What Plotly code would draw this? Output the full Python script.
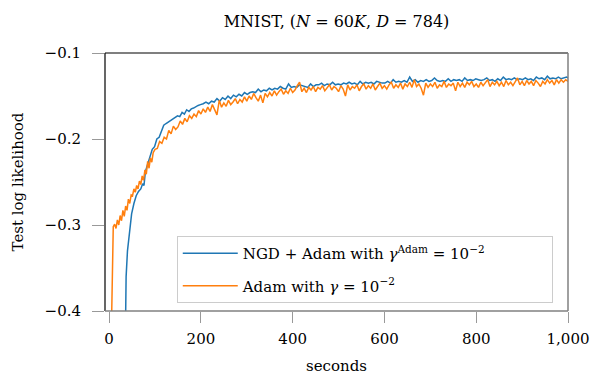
import plotly.graph_objects as go

# ---- data ----
ngd_t = [35, 37, 40, 44, 49, 54, 59, 64, 69, 73,
         76, 79, 84, 89, 94, 99, 104, 109, 114, 119,
         124, 129, 134, 139, 144, 149, 154, 159, 164, 169,
         174, 179, 184, 189, 194, 199, 205, 211, 217, 223,
         229, 235, 241, 247, 253, 259, 265, 271, 277, 283,
         289, 295, 301, 307, 313, 319, 325, 331, 337, 343,
         349, 355, 361, 367, 373, 379, 385, 391, 397, 403,
         409, 415, 421, 427, 433, 439, 445, 451, 457, 463,
         469, 475, 481, 487, 493, 499, 505, 511, 517, 523,
         529, 535, 541, 547, 553, 559, 565, 571, 577, 583,
         589, 595, 601, 607, 613, 619, 625, 631, 637, 643,
         649, 655, 661, 667, 673, 679, 685, 691, 697, 703,
         709, 715, 721, 727, 733, 739, 745, 751, 757, 763,
         769, 775, 781, 787, 793, 799, 805, 811, 817, 823,
         829, 835, 841, 847, 853, 859, 865, 871, 877, 883,
         889, 895, 901, 907, 913, 919, 925, 931, 937, 943,
         949, 955, 961, 967, 973, 979, 985, 991, 997, 1000]
ngd_ll = [-0.45, -0.36, -0.33, -0.31, -0.287, -0.275, -0.266, -0.261, -0.258, -0.252,
          -0.254, -0.238, -0.229, -0.220, -0.212, -0.209, -0.200, -0.198, -0.190, -0.184,
          -0.182, -0.180, -0.178, -0.177, -0.175, -0.173, -0.174, -0.169, -0.171, -0.166,
          -0.168, -0.165, -0.164, -0.162, -0.161, -0.160, -0.159, -0.157, -0.159, -0.156,
          -0.157, -0.153, -0.156, -0.152, -0.154, -0.150, -0.153, -0.149, -0.151, -0.148,
          -0.150, -0.146, -0.148, -0.146, -0.145, -0.146, -0.142, -0.145, -0.143, -0.144,
          -0.141, -0.143, -0.141, -0.142, -0.139, -0.141, -0.142, -0.136, -0.140, -0.139,
          -0.140, -0.137, -0.138, -0.139, -0.140, -0.136, -0.139, -0.137, -0.137, -0.135,
          -0.138, -0.136, -0.137, -0.134, -0.137, -0.136, -0.137, -0.135, -0.136, -0.134,
          -0.136, -0.135, -0.137, -0.133, -0.136, -0.134, -0.135, -0.134, -0.136, -0.133,
          -0.134, -0.135, -0.135, -0.133, -0.135, -0.131, -0.134, -0.133, -0.134, -0.132,
          -0.134, -0.128, -0.133, -0.131, -0.134, -0.132, -0.133, -0.131, -0.133, -0.132,
          -0.129, -0.132, -0.133, -0.132, -0.133, -0.130, -0.133, -0.131, -0.132, -0.131,
          -0.133, -0.129, -0.132, -0.131, -0.132, -0.130, -0.131, -0.132, -0.131, -0.129,
          -0.132, -0.131, -0.133, -0.130, -0.132, -0.128, -0.131, -0.130, -0.131, -0.129,
          -0.131, -0.130, -0.131, -0.129, -0.131, -0.130, -0.132, -0.128, -0.130, -0.129,
          -0.131, -0.127, -0.130, -0.129, -0.130, -0.128, -0.130, -0.129, -0.128, -0.129]

adam_t = [4, 7, 9, 12, 15, 18, 21, 24, 27, 30,
          33, 36, 39, 42, 45, 48, 51, 54, 57, 60,
          63, 66, 69, 72, 75, 78, 81, 84, 87, 90,
          93, 96,
          100, 105, 110, 115, 120, 125, 130, 135, 140, 145,
          150, 155, 160, 165, 170, 175, 180, 185, 190, 195,
          200, 205, 210, 215, 220, 225, 230, 235, 240, 245,
          250, 255, 260, 265, 270, 275, 280, 285, 290, 295,
          300, 305, 310, 315, 320, 325, 330, 335, 340, 345,
          350, 355, 360, 365, 370, 375, 380, 385, 390, 395,
          400, 405, 410, 415, 420, 425, 430, 435, 440, 445,
          450, 455, 460, 465, 470, 475, 480, 485, 490, 495,
          500, 505, 510, 515, 520, 525, 530, 535, 540, 545,
          550, 555, 560, 565, 570, 575, 580, 585, 590, 595,
          600, 605, 610, 615, 620, 625, 630, 635, 640, 645,
          650, 655, 660, 665, 670, 675, 680, 685, 690, 695,
          700, 705, 710, 715, 720, 725, 730, 735, 740, 745,
          750, 755, 760, 765, 770, 775, 780, 785, 790, 795,
          800, 805, 810, 815, 820, 825, 830, 835, 840, 845,
          850, 855, 860, 865, 870, 875, 880, 885, 890, 895,
          900, 905, 910, 915, 920, 925, 930, 935, 940, 945,
          950, 955, 960, 965, 970, 975, 980, 985, 990, 995,
          1000]
adam_ll = [-0.45, -0.33, -0.302, -0.299, -0.304, -0.294, -0.300, -0.289, -0.295, -0.283,
           -0.290, -0.278, -0.283, -0.270, -0.275, -0.265, -0.266, -0.258, -0.262, -0.254,
           -0.258, -0.249, -0.253, -0.243, -0.248, -0.236, -0.241, -0.226, -0.234, -0.222,
           -0.227, -0.216,
           -0.212, -0.211, -0.203, -0.205, -0.198, -0.200, -0.190, -0.194, -0.185, -0.189,
           -0.186, -0.179, -0.183, -0.176, -0.180, -0.173, -0.176, -0.171, -0.174, -0.167,
           -0.171, -0.165, -0.169, -0.163, -0.168, -0.160, -0.166, -0.172, -0.155, -0.163,
           -0.158, -0.162, -0.155, -0.160, -0.157, -0.153, -0.159, -0.154, -0.157, -0.151,
           -0.156, -0.150, -0.154, -0.147, -0.152, -0.156, -0.149, -0.158, -0.147, -0.151,
           -0.146, -0.150, -0.144, -0.149, -0.145, -0.142, -0.148, -0.144, -0.147, -0.141,
           -0.146, -0.143, -0.138, -0.134, -0.145, -0.141, -0.146, -0.140, -0.143, -0.139,
           -0.145, -0.140, -0.142, -0.138, -0.144, -0.140, -0.137, -0.143, -0.139, -0.141,
           -0.145, -0.138, -0.142, -0.150, -0.137, -0.143, -0.139, -0.141, -0.137, -0.144,
           -0.139, -0.136, -0.142, -0.138, -0.141, -0.136, -0.143, -0.139, -0.135, -0.141,
           -0.138, -0.142, -0.137, -0.134, -0.141, -0.137, -0.140, -0.135, -0.142, -0.136,
           -0.139, -0.134, -0.140, -0.131, -0.139, -0.136, -0.141, -0.149, -0.135, -0.140,
           -0.136, -0.139, -0.134, -0.141, -0.137, -0.139, -0.133, -0.140, -0.136, -0.138,
           -0.135, -0.144, -0.134, -0.139, -0.135, -0.140, -0.134, -0.137, -0.133, -0.139,
           -0.136, -0.140, -0.134, -0.138, -0.135, -0.131, -0.139, -0.134, -0.137, -0.133,
           -0.138, -0.134, -0.139, -0.132, -0.137, -0.134, -0.138, -0.133, -0.129, -0.137,
           -0.133, -0.138, -0.132, -0.136, -0.133, -0.138, -0.132, -0.135, -0.139, -0.133,
           -0.136, -0.131, -0.135, -0.132, -0.137, -0.131, -0.135, -0.131, -0.134, -0.131,
           -0.133]

x_ticks = [0, 200, 400, 600, 800, 1000]
x_labels = ["0", "200", "400", "600", "800", "1,000"]
y_ticks = [-0.4, -0.3, -0.2, -0.1]
y_labels = ["\u22120.4", "\u22120.3", "\u22120.2", "\u22120.1"]

FONT = "DejaVu Serif, serif"
SIZE = 15
BLUE = "#1f77b4"
ORANGE = "#ff7f0e"
NB = "\u00a0"
EQ = NB + "=" + NB

fig = go.Figure()
fig.add_trace(go.Scatter(x=ngd_t, y=ngd_ll, mode="lines", legendgroup="a",
                         line=dict(color=BLUE, width=1.5),
                         name="NGD + Adam with <i>\u03b3</i><sup>Adam</sup>" + EQ
                              + "10<sup>\u22122</sup>" + NB * 13))
fig.add_trace(go.Scatter(x=adam_t, y=adam_ll, mode="lines", legendgroup="b",
                         line=dict(color=ORANGE, width=1.5),
                         name="Adam with <i>\u03b3</i>" + EQ + "10<sup>\u22122</sup>"))

base_font = dict(family=FONT, size=SIZE, color="black")

fig.update_layout(
    width=591, height=375,
    margin=dict(l=105, r=23, t=53, b=64, autoexpand=False),
    paper_bgcolor="white", plot_bgcolor="white",
    font=base_font,
    title=dict(text="MNIST, (<i>N</i>" + EQ + "60<i>K</i>, <i>D</i>" + EQ + "784)",
               x=0.5, xref="paper", xanchor="center",
               y=1 - 21 / 375, yref="container", yanchor="middle",
               font=dict(family=FONT, size=16, color="black")),
    showlegend=True,
    legend=dict(x=0.155, y=0.031, xanchor="left", yanchor="bottom",
                bgcolor="white", bordercolor="#cccccc", borderwidth=1,
                font=base_font, tracegroupgap=10, itemwidth=55),
    xaxis=dict(range=[-9, 1000], tickvals=x_ticks, ticktext=x_labels,
               ticks="outside", ticklen=11, tickcolor="#999999", tickwidth=1,
               tickfont=base_font, ticklabelstandoff=3, automargin=False,
               showgrid=False, zeroline=False, showline=False,
               title=dict(text="seconds", standoff=17, font=base_font)),
    yaxis=dict(range=[-0.4, -0.1], tickvals=y_ticks, ticktext=y_labels,
               ticks="outside", ticklen=12, tickcolor="#999999", tickwidth=1,
               tickfont=base_font, ticklabelstandoff=8, automargin=False,
               showgrid=False, zeroline=False, showline=False,
               title=dict(text="Test log likelihood", standoff=17, font=base_font)),
)

# axis frame: left/top dark, bottom/right grey
fig.add_shape(type="line", xref="paper", yref="paper", x0=0, x1=0, y0=0, y1=1,
              line=dict(color="black", width=1.2), layer="above")
fig.add_shape(type="line", xref="paper", yref="paper", x0=0, x1=1, y0=1, y1=1,
              line=dict(color="black", width=1.2), layer="above")
fig.add_shape(type="line", xref="paper", yref="paper", x0=0, x1=1, y0=0, y1=0,
              line=dict(color="#808080", width=1.5), layer="above")
fig.add_shape(type="line", xref="paper", yref="paper", x0=1, x1=1, y0=0, y1=1,
              line=dict(color="#808080", width=1.5), layer="above")

fig.write_html("out.html")
